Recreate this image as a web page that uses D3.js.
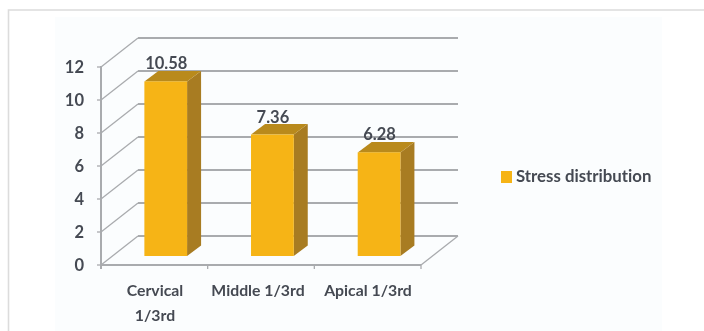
<!DOCTYPE html>
<html>
<head>
<meta charset="utf-8">
<script src="https://cdn.jsdelivr.net/npm/d3@7"></script>
<style>
html,body{margin:0;padding:0;background:#fff;overflow:hidden}
svg{display:block}
text{font-family:Lato,sans-serif;font-weight:700;fill:#454a52;font-variant-ligatures:none}
</style>
</head>
<body>
<svg id="chart" width="704" height="331"></svg>
<script>
const categories = ["Cervical 1/3rd", "Middle 1/3rd", "Apical 1/3rd"];
const categoryLines = [["Cervical", "1/3rd"], ["Middle 1/3rd"], ["Apical 1/3rd"]];
const categoryCenters = [155, 258, 368];
const values = [10.58, 7.36, 6.28];
const valueLabels = ["10.58", "7.36", "6.28"];
const yTicks = [0, 2, 4, 6, 8, 10, 12];
const seriesName = "Stress distribution";

const svg = d3.select("#chart");
const defs = svg.append("defs");
defs.append("filter").attr("id", "soft").attr("x", "-5%").attr("y", "-5%").attr("width", "110%").attr("height", "110%")
  .append("feGaussianBlur").attr("stdDeviation", 0.5);

// Page frame and faint tinted picture area
svg.append("rect").attr("x", 55).attr("y", 17).attr("width", 607).attr("height", 314).attr("fill", "#fbfdfe");
svg.append("path").attr("d", "M8.5,331V10H704").attr("fill", "none").attr("stroke", "#dcdcdc").attr("stroke-width", 1.6);

const root = svg.append("g").attr("filter", "url(#soft)");

const x = d3.scaleBand().domain(categories).range([101, 421]);
const y = d3.scaleLinear().domain([0, 12]).range([265, 67]);

// Oblique 3D offsets
const back = { dx: 37, dy: -29 };
const plane = { dx: 11.4, dy: -9 };
const depth = { dx: 14, dy: -10.5 };
const gridColor = "#a9abae";
const barWidth = 42.7;

const grid = root.append("g").attr("fill", "none").attr("stroke", gridColor);
yTicks.forEach(t => {
  const v = y(t);
  // back wall line
  if (t > 0) {
    grid.append("line").attr("x1", x.range()[0] + back.dx).attr("x2", x.range()[1] + back.dx)
      .attr("y1", v + back.dy).attr("y2", v + back.dy).attr("stroke-width", 1.8);
  }
  // side wall line
  grid.append("line").attr("x1", x.range()[0]).attr("x2", x.range()[0] + back.dx)
    .attr("y1", v).attr("y2", v + back.dy).attr("stroke-width", 1.3);
  // tick
  grid.append("line").attr("x1", x.range()[0] - 4).attr("x2", x.range()[0])
    .attr("y1", v).attr("y2", v).attr("stroke-width", 1.3);
});
// back floor line
grid.append("line").attr("x1", x.range()[0] + back.dx).attr("x2", x.range()[1] + back.dx)
  .attr("y1", y(0) + back.dy).attr("y2", y(0) + back.dy).attr("stroke-width", 1.8);
// right floor edge
grid.append("line").attr("x1", x.range()[1]).attr("x2", x.range()[1] + back.dx)
  .attr("y1", y(0)).attr("y2", y(0) + back.dy).attr("stroke-width", 1.3);

// Axis lines
grid.append("line").attr("x1", x.range()[0]).attr("x2", x.range()[0]).attr("y1", y(12) - 1).attr("y2", y(0) + 4).attr("stroke-width", 2);
grid.append("line").attr("x1", x.range()[0]).attr("x2", x.range()[1]).attr("y1", y(0)).attr("y2", y(0)).attr("stroke-width", 2);
[0, 1, 2, 3].forEach(i => {
  const px = x.range()[0] + i * x.step();
  grid.append("line").attr("x1", px).attr("x2", px).attr("y1", y(0)).attr("y2", y(0) + 4).attr("stroke-width", 1.3);
});

// Bars
const bars = root.selectAll("g.bar").data(categories).join("g").attr("class", "bar");
bars.each(function (c, i) {
  const g = d3.select(this);
  const xl = x(c) + x.bandwidth() / 2 + plane.dx - barWidth / 2;
  const xr = xl + barWidth;
  const yb = y(0) + plane.dy;
  const yt = y(values[i]) + plane.dy;
  const poly = pts => pts.map(p => p.join(",")).join(" ");
  g.append("polygon").attr("fill", "#a87c22")
    .attr("points", poly([[xr, yt], [xr + depth.dx, yt + depth.dy], [xr + depth.dx, yb + depth.dy], [xr, yb]]));
  g.append("polygon").attr("fill", "#b98a1f")
    .attr("points", poly([[xl, yt], [xl + depth.dx, yt + depth.dy], [xr + depth.dx, yt + depth.dy], [xr, yt]]));
  g.append("rect").attr("x", xl).attr("y", yt).attr("width", barWidth).attr("height", yb - yt).attr("fill", "#f6b412");
  g.append("text").attr("x", (xl + xr) / 2 + 0.5).attr("y", yt - 12).attr("text-anchor", "middle")
    .attr("font-size", 16.5).text(valueLabels[i]);
});

// Y labels
root.selectAll("text.ytick").data(yTicks).join("text").attr("class", "ytick")
  .attr("x", 84).attr("y", d => y(d) + 5.5).attr("text-anchor", "end").attr("font-size", 16.5).text(d => d);

// Category labels
categories.forEach((c, i) => {
  categoryLines[i].forEach((line, j) => {
    root.append("text").attr("x", categoryCenters[i]).attr("y", 296 + j * 24.5).attr("text-anchor", "middle")
      .attr("font-size", 15.8).text(line);
  });
});

// Legend
root.append("rect").attr("x", 501).attr("y", 171).attr("width", 11).attr("height", 12).attr("fill", "#f6b412");
root.append("text").attr("x", 516).attr("y", 182).attr("font-size", 16.8).text(seriesName);
</script>
</body>
</html>
